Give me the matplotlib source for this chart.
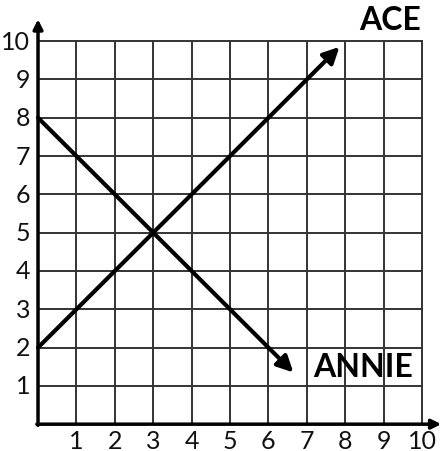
import matplotlib
matplotlib.use("Agg")
import matplotlib.pyplot as plt

# chart data
grid_ticks = list(range(1, 11))
ace_x = [0, 7.85]
ace_y = [2, 9.85]
annie_x = [0, 6.65]
annie_y = [8, 1.35]
labels = ["ACE", "ANNIE"]

fig = plt.figure(figsize=(4.42, 4.52), dpi=100)
ax = fig.add_axes([0, 0, 1, 1])
ax.set_xlim(-0.99, 10.52)
ax.set_ylim(-0.70, 11.10)
ax.axis("off")

font = ["Lato", "DejaVu Sans"]

# grid
for t in grid_ticks:
    ax.plot([t, t], [0, 10], color="#333333", lw=1.4, zorder=1)
    ax.plot([0, 10], [t, t], color="#333333", lw=1.4, zorder=1)

# axes with arrows
ax.annotate("", xy=(10.5, 0), xytext=(-0.03, 0), annotation_clip=False,
            arrowprops=dict(arrowstyle="-|>", color="black", lw=2.5,
                            mutation_scale=14, shrinkA=0, shrinkB=0), zorder=3)
ax.annotate("", xy=(0, 10.57), xytext=(0, -0.03), annotation_clip=False,
            arrowprops=dict(arrowstyle="-|>", color="black", lw=2.5,
                            mutation_scale=14, shrinkA=0, shrinkB=0), zorder=3)

# tick labels
for t in grid_ticks:
    ax.text(t, -0.12, str(t), ha="center", va="top", fontsize=18,
            family=font, color="#111111")
    ax.text(-0.2, t, str(t), ha="right", va="center", fontsize=18,
            family=font, color="#111111")

# the two lines
for xs, ys in [(ace_x, ace_y), (annie_x, annie_y)]:
    ax.annotate("", xy=(xs[1], ys[1]), xytext=(xs[0], ys[0]),
                arrowprops=dict(arrowstyle="-|>", color="black", lw=3,
                                mutation_scale=24, shrinkA=0, shrinkB=0),
                zorder=4)

ax.text(9.17, 10.57, labels[0], ha="center", va="center", fontsize=23,
        family=font, weight="bold", color="black")
ax.text(8.46, 1.51, labels[1], ha="center", va="center", fontsize=23,
        family=font, weight="bold", color="black")

fig.savefig("out.png", dpi=100)
